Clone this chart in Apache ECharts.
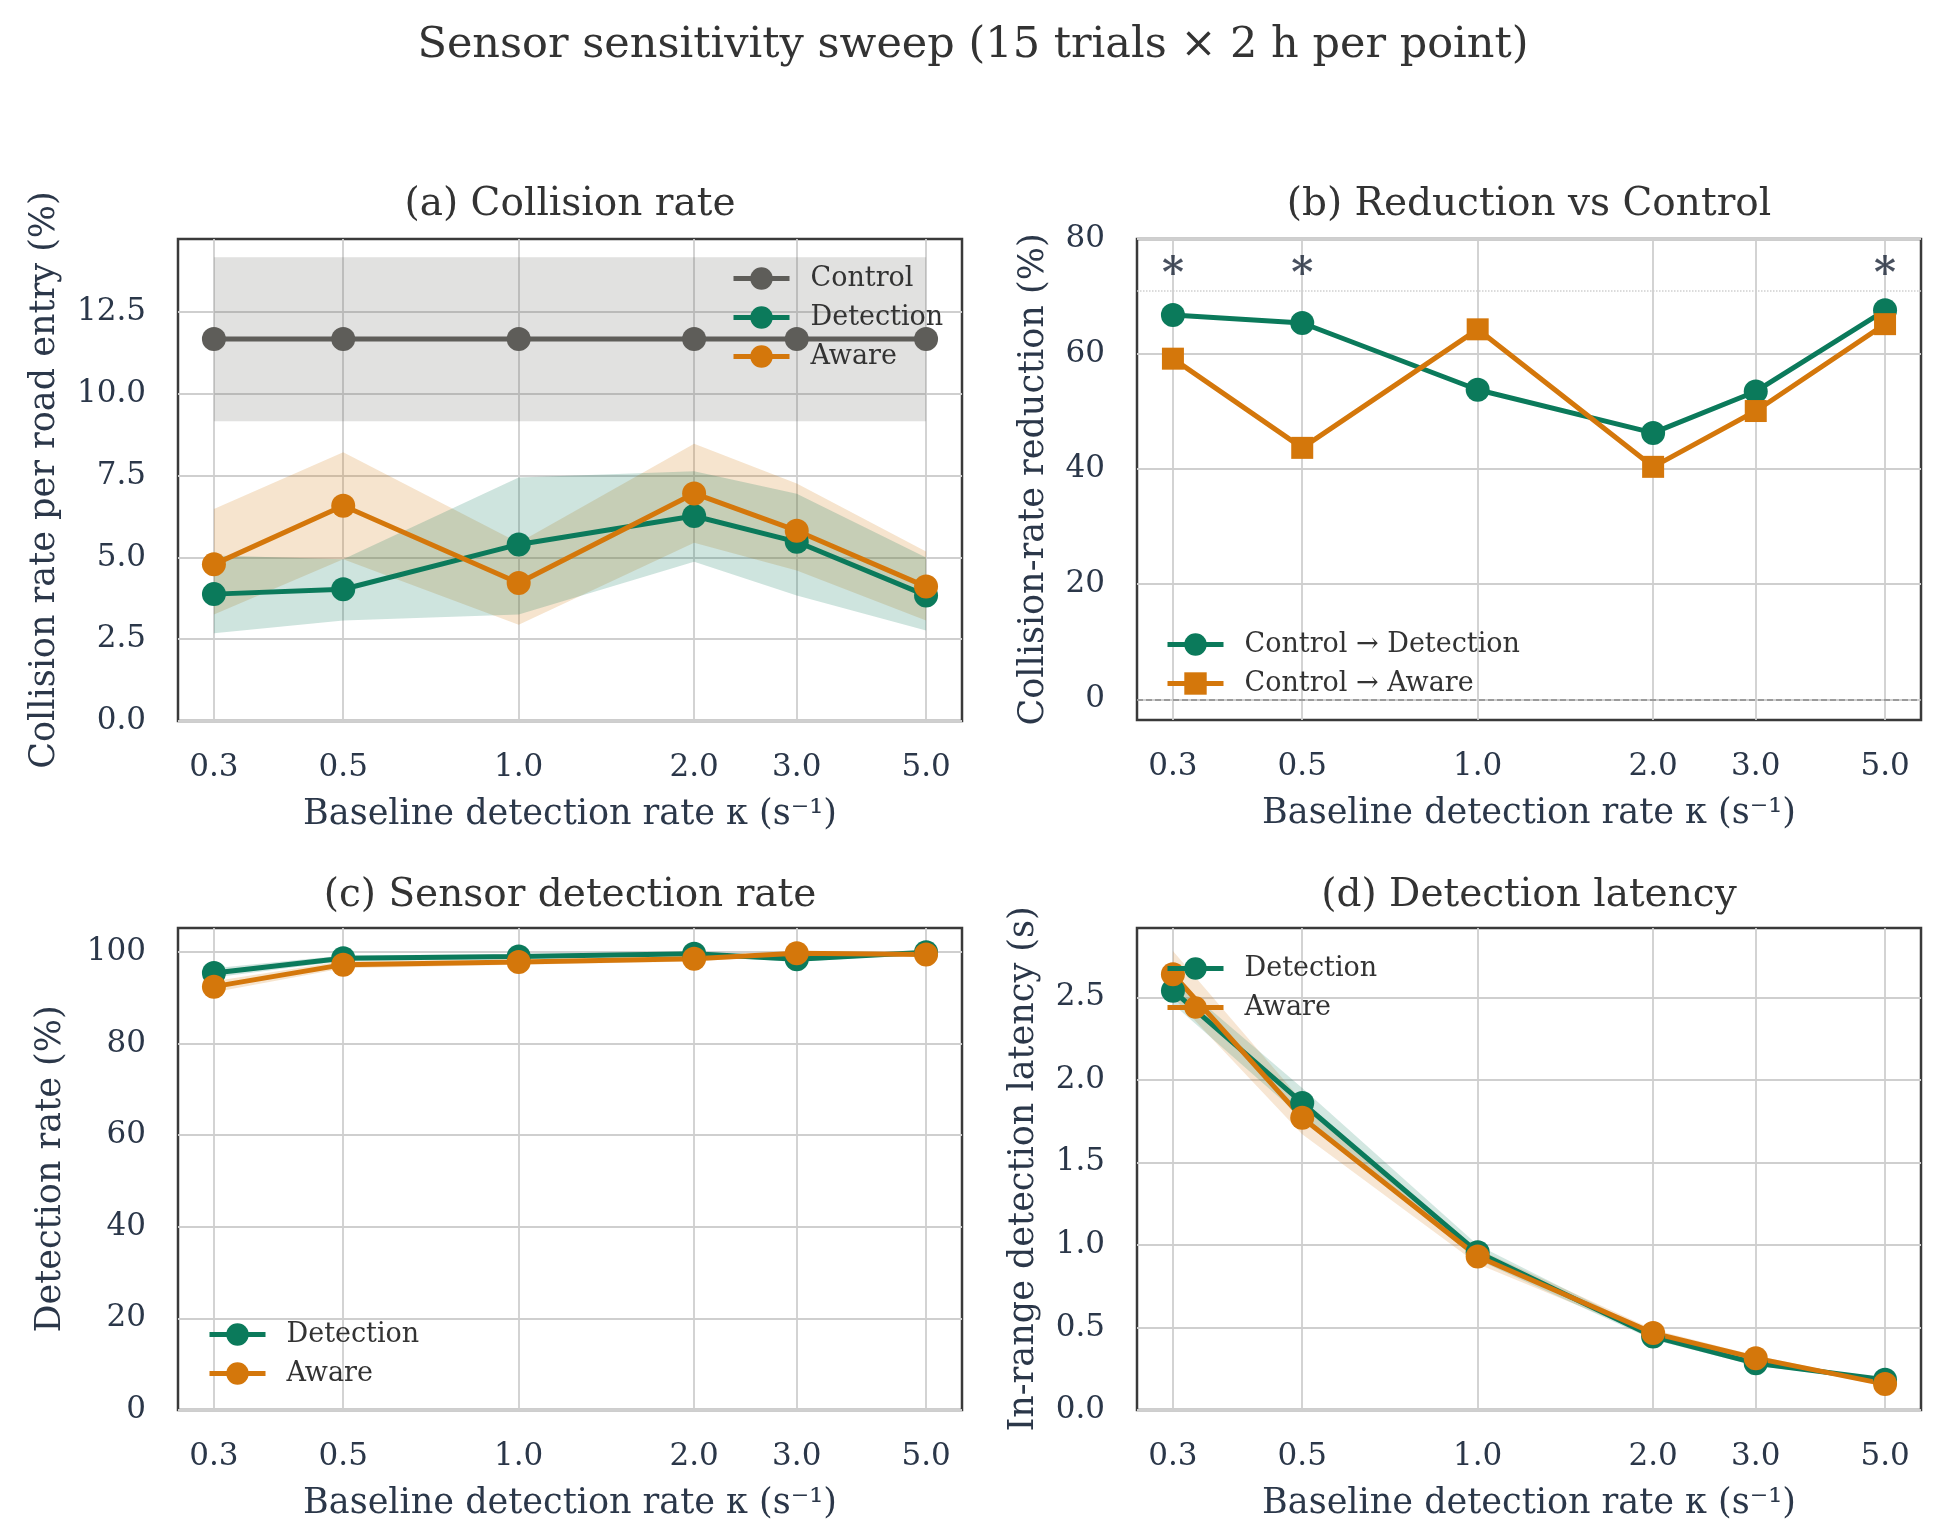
<!DOCTYPE html>
<html>
<head>
<meta charset="utf-8">
<script src="https://cdn.jsdelivr.net/npm/echarts@6/dist/echarts.min.js"></script>
<style>
  html, body { margin: 0; padding: 0; background: #fff; }
  #main { width: 1946px; height: 1540px; }
</style>
</head>
<body>
<div id="main"></div>
<script>
// baseline detection rate kappa (s^-1), log x axis
const kappa = [0.3, 0.5, 1.0, 2.0, 3.0, 5.0];
const kappaTicks = [0.3, 0.5, 1.0, 2.0, 3.0, 5.0];

// (a) collision rate per road entry (%)
const controlRate = [11.68, 11.68, 11.68, 11.68, 11.68, 11.68];
const controlLo = [9.17, 9.17, 9.17, 9.17, 9.17, 9.17];
const controlHi = [14.18, 14.18, 14.18, 14.18, 14.18, 14.18];
const detRate = [3.88, 4.03, 5.40, 6.27, 5.48, 3.84];
const detRateLo = [2.68, 3.07, 3.26, 4.87, 3.84, 2.77];
const detRateHi = [5.06, 4.95, 7.45, 7.64, 6.95, 5.00];
const awareRate = [4.79, 6.58, 4.22, 6.96, 5.82, 4.11];
const awareRateLo = [3.26, 4.95, 2.94, 5.45, 4.60, 3.07];
const awareRateHi = [6.48, 8.22, 5.45, 8.48, 7.26, 5.18];

// (b) reduction vs control (%)
const detReduction = [66.8, 65.4, 53.8, 46.3, 53.5, 67.6];
const awareReduction = [59.2, 43.7, 64.3, 40.4, 50.1, 65.2];
const sigKappa = [0.3, 0.5, 5.0];
const sigLevel = 73.5;
const refLevel = 71;

// (c) sensor detection rate (%)
const detHit = [95.4, 98.6, 99.0, 99.6, 98.4, 99.9];
const detHitLo = [94.4, 98.0, 98.5, 99.2, 97.8, 99.6];
const detHitHi = [96.4, 99.2, 99.5, 100.0, 99.0, 100.0];
const awareHit = [92.4, 97.2, 97.8, 98.5, 99.7, 99.4];
const awareHitLo = [91.2, 96.4, 97.2, 97.9, 99.3, 99.0];
const awareHitHi = [93.6, 98.0, 98.4, 99.1, 100.0, 99.8];

// (d) in-range detection latency (s)
const detLatency = [2.54, 1.86, 0.955, 0.445, 0.283, 0.183];
const detLatencyLo = [2.46, 1.77, 0.91, 0.425, 0.268, 0.172];
const detLatencyHi = [2.62, 1.95, 1.00, 0.465, 0.298, 0.194];
const awareLatency = [2.64, 1.77, 0.93, 0.466, 0.314, 0.157];
const awareLatencyLo = [2.50, 1.67, 0.885, 0.445, 0.298, 0.146];
const awareLatencyHi = [2.78, 1.87, 0.975, 0.487, 0.33, 0.168];

const yTicksA = [0, 2.5, 5, 7.5, 10, 12.5];
const yTicksB = [0, 20, 40, 60, 80];
const yTicksC = [0, 20, 40, 60, 80, 100];
const yTicksD = [0, 0.5, 1.0, 1.5, 2.0, 2.5];

const serif = 'DejaVu Serif';
const ink = '#2b3749';
const green = '#0b7a5b';
const orange = '#d4770b';
const grey = '#5e5d59';
const gridColor = '#cfcfcf';

const grids = [
  {left: 178, top: 239, width: 784, height: 482},
  {left: 1137, top: 239, width: 784, height: 481},
  {left: 178, top: 928, width: 784, height: 482},
  {left: 1137, top: 928, width: 784, height: 482}
];

function xAxisFor(gi) {
  return {
    type: 'log', logBase: 10, gridIndex: gi, min: 0.2603, max: 5.763,
    name: 'Baseline detection rate κ (s⁻¹)', nameLocation: 'middle', nameGap: 76,
    nameTextStyle: {fontFamily: serif, fontSize: 35, color: ink},
    axisLine: {show: false},
    axisTick: {show: false, customValues: kappaTicks},
    axisLabel: {customValues: kappaTicks, formatter: v => Number(v).toFixed(1),
      fontFamily: serif, fontSize: 31, color: ink, margin: 31},
    splitLine: {show: true, lineStyle: {color: gridColor, width: 1.8}},
    minorTick: {show: false}, minorSplitLine: {show: false}
  };
}

function yAxisFor(gi, min, max, ticks, digits, name, gap) {
  return {
    type: 'value', gridIndex: gi, min: min, max: max,
    name: name, nameLocation: 'middle', nameGap: gap,
    nameTextStyle: {fontFamily: serif, fontSize: 35, color: ink},
    axisLine: {show: false},
    axisTick: {show: false, customValues: ticks},
    axisLabel: {customValues: ticks, formatter: v => Number(v).toFixed(digits),
      fontFamily: serif, fontSize: 31, color: ink, margin: 32},
    splitLine: {show: true, lineStyle: {color: gridColor, width: 1.8}}
  };
}

function pts(ys) {
  return kappa.map((k, i) => [k, ys[i]]);
}

function line(gi, name, ys, color, symbol) {
  return {
    type: 'line', name: name, xAxisIndex: gi, yAxisIndex: gi,
    data: pts(ys), symbol: symbol || 'circle', symbolSize: symbol === 'rect' ? 22 : 24,
    showAllSymbol: true, z: 3,
    lineStyle: {color: color, width: 5},
    itemStyle: {color: color, opacity: 1},
    emphasis: {disabled: true}
  };
}

function band(gi, lo, hi, color, opacity) {
  return {
    type: 'custom', xAxisIndex: gi, yAxisIndex: gi, silent: true, z: 1, clip: true,
    data: [[kappa[0], lo[0]]],
    renderItem: (params, api) => {
      const top = kappa.map((k, i) => api.coord([k, hi[i]]));
      const bot = kappa.map((k, i) => api.coord([k, lo[i]])).reverse();
      return {type: 'polygon', shape: {points: top.concat(bot)},
        style: {fill: color, opacity: opacity}};
    }
  };
}

function legendFor(left, top, names) {
  return {
    orient: 'vertical', left: left, top: top, itemWidth: 56, itemHeight: 28, itemGap: 12,
    data: names, selectedMode: false,
    lineStyle: {width: 5},
    textStyle: {fontFamily: serif, fontSize: 27, color: '#333', padding: [0, 0, 0, 16]}
  };
}

function titleText(x, y, text, size) {
  return {type: 'text', x: x, y: y, silent: true,
    style: {text: text, fontFamily: serif, fontSize: size, fill: '#333',
      textAlign: 'center', textVerticalAlign: 'middle'}};
}

const chart = echarts.init(document.getElementById('main'), null, {renderer: 'canvas'});

const option = {
  backgroundColor: '#fff',
  animation: false,
  grid: grids.map(g => Object.assign({show: true, borderColor: '#3a3a3a', borderWidth: 2.5,
    backgroundColor: 'transparent', containLabel: false}, g)),
  xAxis: [xAxisFor(0), xAxisFor(1), xAxisFor(2), xAxisFor(3)],
  yAxis: [
    yAxisFor(0, 0, 14.74, yTicksA, 1, 'Collision rate per road entry (%)', 116),
    yAxisFor(1, -3.6, 80, yTicksB, 0, 'Collision-rate reduction (%)', 86),
    yAxisFor(2, 0, 105.2, yTicksC, 0, 'Detection rate (%)', 110),
    yAxisFor(3, 0, 2.92, yTicksD, 1, 'In-range detection latency (s)', 96)
  ],
  legend: [
    legendFor(726, 260, ['Control', 'Detection', 'Aware']),
    legendFor(1160, 626, ['Control → Detection', 'Control → Aware']),
    legendFor(202, 1316, ['Detection', 'Aware']),
    legendFor(1160, 950, ['Detection', 'Aware'])
  ],
  graphic: [
    titleText(973, 46, 'Sensor sensitivity sweep (15 trials × 2 h per point)', 43),
    titleText(570, 205, '(a) Collision rate', 39),
    titleText(1529, 205, '(b) Reduction vs Control', 39),
    titleText(570, 896, '(c) Sensor detection rate', 39),
    titleText(1529, 896, '(d) Detection latency', 39)
  ],
  series: [
    // (a)
    band(0, controlLo, controlHi, grey, 0.19),
    band(0, awareRateLo, awareRateHi, orange, 0.2),
    band(0, detRateLo, detRateHi, green, 0.2),
    line(0, 'Control', controlRate, grey),
    line(0, 'Detection', detRate, green),
    line(0, 'Aware', awareRate, orange),
    // (b)
    Object.assign(line(1, 'Control → Detection', detReduction, green), {
      markLine: {silent: true, symbol: 'none', label: {show: false},
        data: [
          {yAxis: 0, lineStyle: {color: '#8a8a8a', type: 'dashed', width: 1.5}},
          {yAxis: refLevel, lineStyle: {color: '#cfcfcf', type: 'dotted', width: 1.5}}
        ]}
    }),
    line(1, 'Control → Aware', awareReduction, orange, 'rect'),
    {
      type: 'scatter', xAxisIndex: 1, yAxisIndex: 1, silent: true, z: 4,
      data: sigKappa.map(k => [k, sigLevel]), symbolSize: 2,
      itemStyle: {color: 'rgba(0,0,0,0)'},
      label: {show: true, position: 'inside', formatter: '*', fontFamily: serif,
        fontSize: 42, fontWeight: 'bold', color: '#1a2436'}
    },
    // (c)
    band(2, awareHitLo, awareHitHi, orange, 0.2),
    band(2, detHitLo, detHitHi, green, 0.2),
    line(2, 'Detection', detHit, green),
    line(2, 'Aware', awareHit, orange),
    // (d)
    band(3, awareLatencyLo, awareLatencyHi, orange, 0.18),
    band(3, detLatencyLo, detLatencyHi, green, 0.18),
    line(3, 'Detection', detLatency, green),
    line(3, 'Aware', awareLatency, orange)
  ]
};

chart.setOption(option);
</script>
</body>
</html>
